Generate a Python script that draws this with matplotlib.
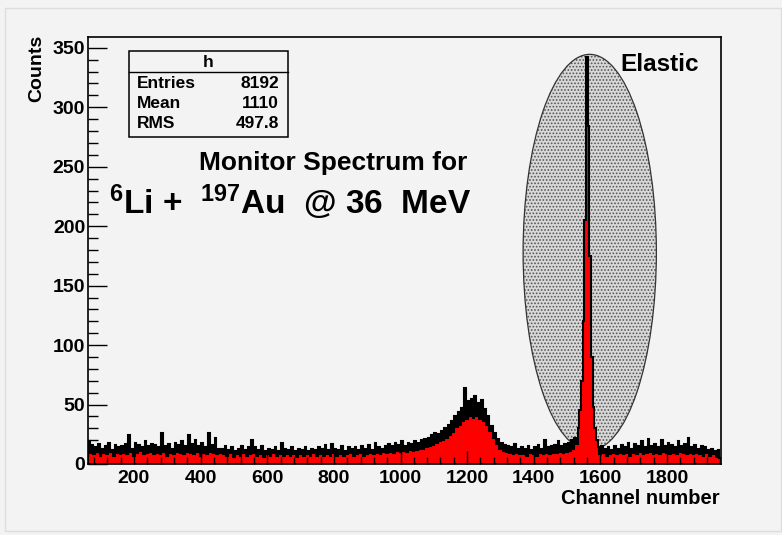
import numpy as np
import matplotlib
matplotlib.use("Agg")
import matplotlib.pyplot as plt
from matplotlib.patches import Ellipse, Rectangle
from matplotlib.lines import Line2D
from matplotlib.ticker import MultipleLocator

# --- Spectrum data (counts per 5-channel bin, first edge at channel 62) ---
first_channel = 62
bin_width = 5

noise_062_562 = [
    19, 9, 16, 8, 14, 10, 17, 7, 13, 9, 15, 8, 18, 10, 12, 7, 16, 9, 14, 8,
    15, 9, 17, 8, 24, 10, 13, 7, 18, 9, 16, 11, 14, 8, 19, 9, 15, 10, 17, 8,
    16, 9, 14, 8, 26, 10, 15, 7, 17, 9, 13, 8, 18, 10, 16, 9, 19, 8, 15, 10,
    24, 9, 17, 8, 20, 10, 15, 7, 18, 9, 14, 8, 26, 10, 16, 9, 22, 8, 13, 9,
    13, 8, 15, 7, 12, 9, 14, 6, 11, 8, 13, 7, 15, 9, 12, 7, 14, 8, 20, 9,
]
noise_562_1062 = [
    14, 7, 12, 8, 15, 6, 11, 8, 13, 7, 12, 9, 14, 7, 11, 8, 18, 7, 13, 8,
    12, 7, 14, 8, 11, 6, 13, 8, 12, 7, 14, 8, 11, 7, 13, 9, 12, 7, 14, 8,
    13, 7, 16, 8, 12, 7, 17, 9, 13, 7, 12, 8, 15, 7, 11, 8, 14, 9, 13, 7,
    14, 8, 12, 9, 15, 7, 13, 8, 16, 9, 12, 8, 18, 9, 14, 8, 13, 10, 15, 9,
    17, 10, 15, 9, 18, 11, 16, 10, 19, 11, 15, 10, 18, 12, 17, 11, 19, 12, 18, 13,
]
bump_1062_1362 = [
    20, 13, 21, 14, 22, 15, 24, 16, 26, 18, 25, 19, 28, 20, 30, 22, 33, 24, 36, 27,
    40, 31, 44, 33, 47, 36, 64, 38, 53, 40, 55, 39, 57, 40, 51, 38, 54, 36, 46, 33,
    40, 28, 32, 22, 26, 17, 21, 13, 18, 11, 16, 10, 15, 9, 14, 8, 17, 9, 13, 8,
]
elastic_1362_1662 = [
    14, 8, 13, 7, 15, 9, 12, 8, 14, 7, 16, 9, 13, 8, 20, 9, 14, 8, 15, 9,
    16, 9, 19, 10, 15, 9, 17, 10, 18, 11, 20, 13, 22, 17, 30, 45, 70, 120, 205, 342,
    284, 175, 90, 48, 30, 20, 14, 8, 15, 9, 13, 7, 14, 8, 12, 9, 15, 8, 13, 9,
]
tail_1662_1962 = [
    16, 8, 14, 9, 18, 7, 13, 9, 17, 8, 15, 10, 19, 8, 14, 9, 21, 10, 15, 8,
    17, 9, 14, 8, 20, 10, 15, 9, 18, 8, 16, 9, 14, 8, 19, 10, 15, 9, 17, 8,
    22, 9, 14, 8, 16, 9, 13, 8, 15, 7, 14, 9, 12, 7, 13, 8, 11, 6, 12, 5,
]

stats_labels = ["Entries", "Mean", "RMS"]
stats_values = ["8192", "1110", "497.8"]

counts = np.array(noise_062_562 + noise_562_1062 + bump_1062_1362
                  + elastic_1362_1662 + tail_1662_1962, dtype=float)
edges = first_channel + bin_width * np.arange(len(counts) + 1)

# --- Style ---
bg = "#f3f3f3"
plt.rcParams["font.family"] = ["Liberation Sans", "DejaVu Sans"]
plt.rcParams["font.weight"] = "bold"
plt.rcParams["mathtext.fontset"] = "custom"
plt.rcParams["mathtext.rm"] = "Liberation Sans:bold"
plt.rcParams["mathtext.bf"] = "Liberation Sans:bold"
plt.rcParams["mathtext.it"] = "Liberation Sans:bold"
plt.rcParams["hatch.linewidth"] = 0.8

W, H = 782, 535
fig = plt.figure(figsize=(W / 100, H / 100), dpi=100, facecolor=bg)


def fx(px):
    return px / W


def fy(py):
    return 1 - py / H


ax = fig.add_axes([fx(88), fy(464), fx(721) - fx(88), fy(37) - fy(464)])
ax.set_facecolor(bg)

# Elastic selection window behind the spectrum
ax.add_patch(Ellipse((1568, 178), 400, 333, facecolor="#d8d8d8",
                     edgecolor="#555555", hatch=".....", lw=0, zorder=0.5))
ax.add_patch(Ellipse((1568, 178), 400, 333, fill=False,
                     edgecolor="#333333", lw=0.9, zorder=0.6))

# Histogram: red fill with black outline
ax.stairs(counts, edges, fill=True, color="#ff0000", zorder=1)
ax.stairs(counts, edges, color="black", lw=1.5, zorder=1.1)

ax.set_xlim(edges[0], edges[-1])
ax.set_ylim(0, 1.05 * counts.max())

ax.xaxis.set_major_locator(MultipleLocator(200))
ax.xaxis.set_minor_locator(MultipleLocator(40))
ax.yaxis.set_major_locator(MultipleLocator(50))
ax.yaxis.set_minor_locator(MultipleLocator(10))
ax.tick_params(axis="both", which="both", direction="in", top=False, right=False,
               labelsize=14, width=1, color="black")
ax.tick_params(axis="y", which="major", length=13.5, pad=2)
ax.tick_params(axis="y", which="minor", length=7)
ax.tick_params(axis="x", which="major", length=9.5, pad=4)
ax.tick_params(axis="x", which="minor", length=5)
for s in ax.spines.values():
    s.set_linewidth(1.2)

# Axis titles placed at the axis ends
fig.text(fx(37), fy(35), "Counts", rotation=90, ha="center", va="top", fontsize=14)
fig.text(fx(720), fy(498), "Channel number", ha="right", va="center", fontsize=14.5)

# Annotations
fig.text(fx(620), fy(71), "Elastic", ha="left", va="baseline", fontsize=17.5)
fig.text(fx(333), fy(170), "Monitor Spectrum for", ha="center", va="baseline",
         fontsize=19)
fig.text(fx(290), fy(214), r"$^{6}$Li +  $^{197}$Au  @ 36  MeV", ha="center",
         va="baseline", fontsize=24)

# --- Statistics box ---
box_l, box_r, box_t, box_b = 129, 288, 51, 137
fig.add_artist(Rectangle((fx(box_l), fy(box_b)), fx(box_r) - fx(box_l),
                         fy(box_t) - fy(box_b), transform=fig.transFigure,
                         facecolor=bg, edgecolor="black", lw=1.1))
fig.add_artist(Line2D([fx(box_l), fx(box_r)], [fy(72), fy(72)],
                      transform=fig.transFigure, color="black", lw=1))
fig.text(fx((box_l + box_r) / 2), fy(62), "h", ha="center", va="center", fontsize=12.5)
for i, (lab, val) in enumerate(zip(stats_labels, stats_values)):
    y = fy(84 + 20 * i)
    fig.text(fx(137), y, lab, ha="left", va="center", fontsize=12.5)
    fig.text(fx(279), y, val, ha="right", va="center", fontsize=12.5)

# Faint canvas border
fig.add_artist(Rectangle((fx(5), fy(531)), fx(781) - fx(5), fy(8) - fy(531),
                         transform=fig.transFigure, fill=False,
                         edgecolor="#dddddd", lw=1))

fig.savefig("out.png", dpi=100, facecolor=bg)
